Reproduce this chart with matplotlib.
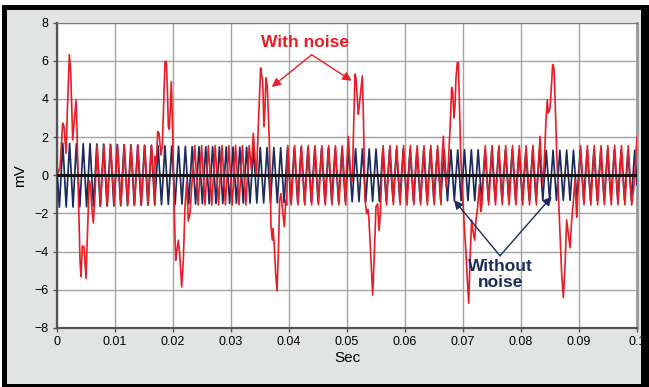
import numpy as np
import matplotlib
matplotlib.use("Agg")
import matplotlib.pyplot as plt
from matplotlib.patches import Rectangle

# sine: one cycle ~1.174 ms, first trough at ~0.41 ms
period_ms = 1.174
first_trough_ms = 0.41
blue_start_mv = 0.2
blue_end_mv = -0.5

# peak height of each blue cycle (mV), left to right
blue_amp_mv = [1.67, 1.66, 1.66, 1.65, 1.65, 1.64, 1.63, 1.62, 1.61, 1.60,
               1.59, 1.58, 1.57, 1.56, 1.55, 1.54, 1.53, 1.52, 1.51, 1.50,
               1.50, 1.49, 1.49, 1.48, 1.48, 1.47, 1.47, 1.46, 1.46, 1.45,
               1.45, 1.45, 1.44, 1.44, 1.43, 1.43, 1.42, 1.42, 1.41, 1.41,
               1.40, 1.40, 1.39, 1.39, 1.38, 1.38, 1.37, 1.37, 1.37, 1.36,
               1.36, 1.36, 1.35, 1.35, 1.35, 1.34, 1.34, 1.34, 1.33, 1.33,
               1.33, 1.33, 1.32, 1.32, 1.32, 1.32, 1.32, 1.31, 1.31, 1.31,
               1.31, 1.31, 1.31, 1.31, 1.31, 1.31, 1.31, 1.31, 1.31, 1.31,
               1.31, 1.31, 1.31, 1.31, 1.31]

# peak height of each red cycle (mV)
red_amp_mv = [1.58, 1.58, 1.58, 1.57, 1.58, 1.57, 1.58, 1.57, 1.57, 1.58,
              1.57, 1.57, 1.56, 1.57, 1.56, 1.57, 1.56, 1.56, 1.57, 1.56,
              1.56, 1.55, 1.56, 1.56, 1.55, 1.56, 1.55, 1.56, 1.55, 1.55,
              1.56, 1.55, 1.55, 1.56, 1.55, 1.55, 1.56, 1.55, 1.55, 1.56,
              1.55, 1.55, 1.56, 1.55, 1.55, 1.56, 1.55, 1.55, 1.56, 1.55,
              1.55, 1.56, 1.55, 1.55, 1.56, 1.55, 1.55, 1.56, 1.55, 1.55,
              1.56, 1.55, 1.55, 1.56, 1.55, 1.55, 1.56, 1.55, 1.55, 1.56,
              1.55, 1.55, 1.56, 1.55, 1.55, 1.56, 1.55, 1.55, 1.56, 1.55,
              1.55, 1.56, 1.55, 1.55, 1.56]

# shift of the red sine against the blue one, per stretch between spikes (ms)
red_lag_ms = [0.0, 0.05, 0.45, 0.06, 0.06, 0.06, 0.06]

# the spikes on the red trace (ms, mV)
beat1_t = [0.0, 0.52, 0.98, 1.21, 1.55, 1.8, 2.13, 2.36, 2.55, 2.71, 3.0, 3.28, 3.45,
           3.68, 3.97, 4.14, 4.37, 4.66, 5.0, 5.29, 5.57, 5.8, 6.0, 6.26, 6.55]
beat1_v = [0.0, 0.4, 2.73, 2.56, 1.15, 3.5, 6.31, 5.44, 3.5, 1.85, 2.9, 3.95, 2.4,
           -0.9, -4.5, -5.3, -3.7, -3.75, -5.4, -2.7, -0.3, -0.6, -1.7, -2.5, -1.0]

beat2_t = [16.9, 17.12, 17.36, 17.59, 17.93, 18.16, 18.4, 18.62, 18.85, 19.02, 19.2,
           19.37, 19.54, 19.71, 19.89, 20.06, 20.23, 20.46, 20.69, 20.92, 21.15,
           21.49, 21.78, 22.07, 22.36, 22.64, 22.93, 23.22]
beat2_v = [1.0, 0.6, 2.29, 2.2, 1.06, 1.5, 3.8, 5.96, 5.96, 4.65, 2.55,
           2.4, 3.5, 4.9, 2.9, 0.5, -2.0, -4.45, -3.9, -3.4, -4.1,
           -5.85, -4.45, -1.65, -0.34, -2.4, -2.0, -0.6]

beat3_t = [33.5, 33.85, 34.1, 34.4, 34.7, 35.11, 35.3, 35.45, 35.68, 35.85, 36.03,
           36.26, 36.6, 36.75, 36.9, 37.13, 37.24, 37.47, 37.7, 37.93, 38.16,
           38.39, 38.62, 38.91, 39.2, 39.43]
beat3_v = [0.3, 2.2, 1.0, 0.0, 2.5, 5.62, 5.2, 5.0, 2.55, 3.5, 5.1,
           4.65, 1.85, 0.0, -2.7, -3.4, -2.8, -3.75, -5.15, -6.06, -4.1,
           -1.3, -0.96, -1.9, -2.7, -1.3]

beat4_t = [49.9, 50.23, 50.5, 50.69, 50.92, 51.1, 51.38, 51.55, 51.78, 51.95, 52.1,
           52.41, 52.64, 52.8, 53.1, 53.39, 53.6, 53.79, 54.14, 54.43, 54.71,
           55.0, 55.29, 55.52, 55.75, 55.98]
beat4_v = [0.3, 2.03, 0.5, -0.1, -0.3, 2.0, 5.3, 5.1, 3.95, 3.2, 3.6,
           4.5, 5.2, 3.5, -1.3, -2.0, -1.8, -2.35, -4.45, -6.28, -4.1,
           -1.65, -1.5, -2.9, -2.0, 0.0]

beat5_t = [66.3, 66.61, 66.85, 67.1, 67.4, 67.76, 68.05, 68.22, 68.45, 68.62, 68.79,
           69.02, 69.2, 69.37, 69.6, 69.83, 70.17, 70.52, 70.75, 70.98, 71.21,
           71.49, 71.78, 72.01, 72.24, 72.53, 72.82, 73.05]
beat5_v = [0.5, 2.05, 0.3, -0.6, 0.2, 2.4, 4.6, 4.4, 3.0, 3.6, 5.1,
           5.9, 5.9, 3.8, 1.15, -0.5, -2.35, -4.1, -5.5, -6.7, -4.45,
           -2.35, -3.05, -3.4, -2.35, -1.65, -0.5, -1.9]

beat6_t = [83.0, 83.28, 83.55, 83.8, 84.05, 84.31, 84.54, 84.71, 85.0, 85.17, 85.46,
           85.69, 85.92, 86.15, 86.44, 86.72, 87.01, 87.3, 87.59, 87.87, 88.16,
           88.45, 88.74, 89.02, 89.31, 89.6]
beat6_v = [0.5, 2.03, 0.3, -0.5, 1.0, 2.9, 3.95, 3.25, 3.5, 4.3, 5.8,
           5.6, 3.6, 1.15, -1.0, -3.05, -5.15, -6.4, -4.8, -2.35, -3.05,
           -3.8, -2.35, -1.4, -0.2, -2.2]

beat7_t = [99.5, 100.0]
beat7_v = [-0.5, 2.0]

x_ticks = [0, 0.01, 0.02, 0.03, 0.04, 0.05, 0.06, 0.07, 0.08, 0.09, 0.1]
x_labels = ["0", "0.01", "0.02", "0.03", "0.04", "0.05", "0.06", "0.07", "0.08", "0.09", "0.1"]
y_ticks = [-8, -6, -4, -2, 0, 2, 4, 6, 8]

RED = "#e81d25"
NAVY = "#1c2b5c"
BG = "#e2e4e4"

# build the two traces from the extremes
half = period_ms / 2
ext_t = first_trough_ms + half * np.arange(2 * len(blue_amp_mv))
blue_ext = np.ravel([[-a, a] for a in blue_amp_mv])
blue_t = np.r_[0.0, ext_t, 100.0]
blue_v = np.r_[blue_start_mv, blue_ext, blue_end_mv]

beats = [(beat1_t, beat1_v), (beat2_t, beat2_v), (beat3_t, beat3_v),
         (beat4_t, beat4_v), (beat5_t, beat5_v), (beat6_t, beat6_v),
         (beat7_t, beat7_v)]
red_ext = np.ravel([[-a, a] for a in red_amp_mv])
pts = []
for t, v in zip(ext_t, red_ext):
    gap = sum(bt[-1] < t for bt, _ in beats)
    tt = t + red_lag_ms[min(gap, len(red_lag_ms) - 1)]
    if tt > 100 or any(bt[0] <= tt <= bt[-1] for bt, _ in beats):
        continue
    pts.append((tt, v))
for bt, bv in beats:
    pts += list(zip(bt, bv))
pts.sort()
red_t = np.array([p[0] for p in pts])
red_v = np.array([p[1] for p in pts])

W, H = 649, 387
fig = plt.figure(figsize=(W / 100, H / 100), dpi=100, facecolor="white")
plt.rcParams["font.family"] = ["Liberation Sans", "DejaVu Sans"]


def px_rect(x0, y0, x1, y1, color):
    r = Rectangle((x0 / W, 1 - y1 / H), (x1 - x0) / W, (y1 - y0) / H,
                  transform=fig.transFigure, facecolor=color, edgecolor="none", zorder=-5)
    fig.add_artist(r)


px_rect(2, 5, 649, 387, "black")
px_rect(7, 10, 641, 384, BG)

ax = fig.add_axes([57 / W, 1 - 328 / H, 580 / W, 305.5 / H])
ax.set_facecolor("white")

ax.plot(blue_t / 1000, blue_v, color=NAVY, lw=1.25, zorder=3)
ax.plot(red_t / 1000, red_v, color=RED, lw=1.2, zorder=4)
ax.axhline(0, color="#111111", lw=2.2, zorder=6)

ax.set_xlim(0, 0.1)
ax.set_ylim(-8, 8)
ax.set_xticks(x_ticks)
ax.set_xticklabels(x_labels)
ax.set_yticks(y_ticks)
ax.grid(True, color="#a3a3a3", lw=1.0, zorder=0)
ax.set_axisbelow(True)
ax.tick_params(axis="both", direction="out", length=3, width=1, color="#555555",
               labelsize=9, pad=3)
for s in ["left", "bottom"]:
    ax.spines[s].set_color("#555555")
    ax.spines[s].set_linewidth(1.6)
ax.spines["top"].set_color("#777777")
ax.spines["top"].set_linewidth(0.8)
ax.spines["right"].set_color("#999999")
ax.spines["right"].set_linewidth(2.0)

ax.set_xlabel("Sec", fontsize=11, labelpad=2)
ax.set_ylabel("mV", fontsize=11, labelpad=5)

# annotations
ax.text(0.0428, 6.95, "With noise", color=RED, fontsize=12.5, fontweight="bold",
        ha="center", va="center", zorder=8)
for tip in [(0.03702, 4.62), (0.05081, 4.95)]:
    ax.annotate("", xy=tip, xytext=(0.04391, 6.31),
                arrowprops=dict(arrowstyle="-|>", color=RED, lw=1.0, mutation_scale=13,
                                shrinkA=0, shrinkB=0), zorder=8)

ax.text(0.0764, -5.2, "Without\nnoise", color=NAVY, fontsize=12.5, fontweight="bold",
        ha="center", va="center", linespacing=1.15, zorder=8)
for tip in [(0.06845, -1.30), (0.08529, -1.12)]:
    ax.annotate("", xy=tip, xytext=(0.07638, -4.22),
                arrowprops=dict(arrowstyle="-|>", color=NAVY, lw=1.0, mutation_scale=13,
                                shrinkA=0, shrinkB=0), zorder=8)

fig.savefig("out.png", dpi=100, facecolor=fig.get_facecolor())
